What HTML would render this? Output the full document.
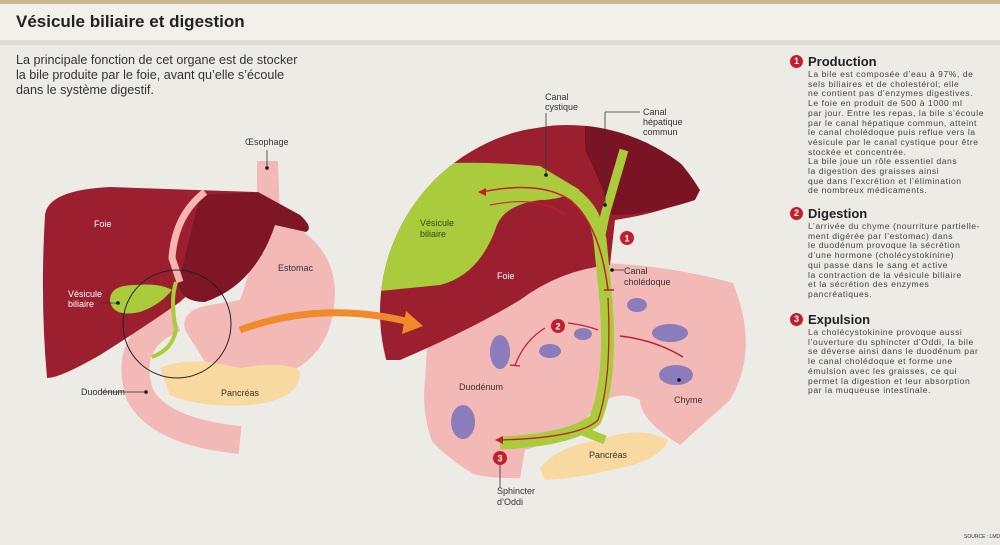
<!DOCTYPE html>
<html><head><meta charset="utf-8"><style>
body{margin:0;width:1000px;height:545px;overflow:hidden;background:#ecebe6;font-family:"Liberation Sans",sans-serif;position:relative}
.top{position:absolute;left:0;top:0;width:1000px;height:4px;background:#c9b995}
.hd{position:absolute;left:0;top:4px;width:1000px;height:36px;background:#f1f0eb;border-bottom:5px solid #dedcd5}
h1{position:absolute;left:16px;top:12px;margin:0;font-size:17px;font-weight:bold;color:#222}
.intro{position:absolute;left:16px;top:53px;font-size:12.6px;line-height:15px;color:#333}
.col{position:absolute;left:790px;width:210px;color:#444;font-size:8.6px;line-height:9.7px;white-space:nowrap}
.col b{display:block;font-size:13px;color:#222;margin-left:18px;line-height:15px}
.col p{margin:1px 0 0 18px;letter-spacing:0.55px}
.n{position:absolute;left:0;top:1px;width:13px;height:13px;border-radius:50%;background:#c41e2e;color:#fff;font-size:9px;font-weight:bold;text-align:center;line-height:13px}
svg text{font-family:"Liberation Sans",sans-serif;font-size:9px;fill:#333}
</style></head><body>
<div class="top"></div><div class="hd"></div>
<h1>Vésicule biliaire et digestion</h1>
<div class="intro">La principale fonction de cet organe est de stocker<br>la bile produite par le foie, avant qu’elle s’écoule<br>dans le système digestif.</div>
<svg width="1000" height="545" style="position:absolute;left:0;top:0">
<defs><clipPath id="c"><circle cx="567" cy="312" r="187"/></clipPath></defs>
<path d="M257,161 L278,161 L280,220 Q332,240 335,290 Q335,350 290,372 Q240,382 210,370 L185,330 Q180,310 210,305 L240,300 Q255,260 257,215 Z" fill="#f3b9b6"/>
<path d="M175,318 Q122,340 140,395 Q160,432 240,440" stroke="#f3b9b6" stroke-width="28" fill="none"/>
<path d="M160,368 Q190,355 240,368 Q290,360 300,372 Q300,400 250,405 Q200,408 170,395 Z" fill="#f8d9a0"/>
<path d="M45,215 Q48,190 110,187 L255,192 L268,205 L262,255 Q240,270 210,282 Q190,292 180,302 Q140,330 100,355 Q60,378 47,378 Q40,300 45,215 Z" fill="#9c1f30"/>
<path d="M200,195 L258,192 L300,215 Q314,228 306,232 L275,225 Q255,285 205,302 Q182,302 178,285 Z" fill="#7e1626"/>
<path d="M205,192 Q175,215 172,258 L180,282" stroke="#f5b6b0" stroke-width="7" fill="none"/>
<path d="M110,300 Q110,285 135,285 Q160,283 172,290 Q160,305 140,312 Q112,318 110,300 Z" fill="#a9cb3c"/>
<path d="M176,282 Q170,300 176,330 Q172,350 152,357" stroke="#a9cb3c" stroke-width="4" fill="none"/>
<circle cx="177" cy="324" r="54" fill="none" stroke="#222" stroke-width="1"/>
<g clip-path="url(#c)">
<rect x="370" y="120" width="400" height="380" fill="#ecebe6"/>
<path d="M430,300 Q500,265 560,263 Q650,260 733,283 Q760,350 730,400 L680,445 Q640,420 640,400 Q610,385 585,420 Q560,440 525,450 L520,478 Q470,480 440,460 Q420,420 425,380 Z" fill="#f3b9b6"/>
<path d="M540,468 Q560,445 600,440 Q640,425 668,440 Q660,460 620,468 Q580,478 545,480 Z" fill="#f8d9a0"/>
<path d="M370,180 L460,140 L600,118 L700,190 Q680,210 615,220 L610,265 Q560,270 520,300 Q470,330 400,360 L370,360 Z" fill="#9c1f30"/>
<path d="M585,122 Q650,110 700,190 L695,200 Q650,215 612,215 Q600,180 585,150 Z" fill="#7a1424"/>
<path d="M370,170 Q450,158 540,166 L580,190 Q560,200 540,200 Q505,205 497,225 Q480,275 440,285 L370,292 Z" fill="#a9cb3c"/>
<path d="M540,182 Q592,190 600,240 L606,300 Q612,380 595,420 Q570,440 500,443" stroke="#a9cb3c" stroke-width="13" fill="none"/>
<path d="M624,150 L605,215 L600,240" stroke="#a9cb3c" stroke-width="9" fill="none"/>
<path d="M580,430 L605,440" stroke="#a9cb3c" stroke-width="9" fill="none"/>
<path d="M482,192 Q540,180 570,200 Q600,225 608,290 M604,290 L614,290" stroke="#c41e2e" stroke-width="1.5" fill="none"/>
<path d="M490,205 Q540,195 565,215" stroke="#c41e2e" stroke-width="1" fill="none"/>
<path d="M608,298 Q612,380 598,420 Q580,438 498,440" stroke="#c41e2e" stroke-width="1.3" fill="none"/>
<path d="M545,328 Q525,340 515,365 M510,365 L520,366 M568,323 Q585,325 598,330" stroke="#c41e2e" stroke-width="1.3" fill="none"/>
<path d="M683,357 Q655,340 620,336" stroke="#c41e2e" stroke-width="1.5" fill="none"/>
<g fill="#8b7cbb"><ellipse cx="637" cy="305" rx="10" ry="7"/><ellipse cx="670" cy="333" rx="18" ry="9"/><ellipse cx="676" cy="375" rx="17" ry="10"/><ellipse cx="500" cy="352" rx="10" ry="17"/><ellipse cx="550" cy="351" rx="11" ry="7"/><ellipse cx="583" cy="334" rx="9" ry="6"/><ellipse cx="463" cy="422" rx="12" ry="17"/></g>
</g>
<path d="M240,330 Q320,300 410,322" stroke="#f08a2a" stroke-width="7" fill="none"/>
<polygon points="406,311 423,326 402,334" fill="#f08a2a"/>
<polygon points="478,192 486,188 486,196" fill="#c41e2e"/>
<polygon points="495,440 503,436 503,444" fill="#c41e2e"/>
<circle cx="627" cy="238" r="7" fill="#c41e2e"/><circle cx="558" cy="326" r="7" fill="#c41e2e"/><circle cx="500" cy="458" r="7" fill="#c41e2e"/>
<text x="624.5" y="241.5" style="fill:#fff" font-weight="bold">1</text><text x="555.5" y="329.5" style="fill:#fff" font-weight="bold">2</text><text x="497.5" y="461.5" style="fill:#fff" font-weight="bold">3</text>
<g stroke="#333" stroke-width="0.8"><path d="M546,113 L546,175 M605,112 L640,112 M605,112 L605,205 M612,270 L624,270 M500,465 L500,488 M267,150 L267,168 M102,392 L144,392 M100,303 L118,303"/></g>
<g fill="#111"><circle cx="546" cy="175" r="1.8"/><circle cx="605" cy="205" r="1.8"/><circle cx="612" cy="270" r="1.8"/><circle cx="267" cy="168" r="1.8"/><circle cx="146" cy="392" r="1.8"/><circle cx="118" cy="303" r="1.8"/><circle cx="679" cy="380" r="1.8"/></g>
<text x="94" y="227" style="fill:#fff">Foie</text>
<text x="420" y="226" style="fill:#2d4a10">Vésicule</text><text x="420" y="237" style="fill:#2d4a10">biliaire</text>
<text x="497" y="279" style="fill:#fff">Foie</text>
<text x="245" y="145">Œsophage</text><text x="278" y="271">Estomac</text>
<text x="68" y="297" style="fill:#fff">Vésicule</text><text x="68" y="307" style="fill:#fff">biliaire</text>
<text x="81" y="395">Duodénum</text><text x="221" y="396">Pancréas</text>
<text x="545" y="100">Canal</text><text x="545" y="110">cystique</text>
<text x="643" y="115">Canal</text><text x="643" y="125">hépatique</text><text x="643" y="135">commun</text>
<text x="624" y="274">Canal</text><text x="624" y="285">cholédoque</text>
<text x="459" y="390">Duodénum</text><text x="674" y="403">Chyme</text><text x="589" y="458">Pancréas</text>
<text x="497" y="494">Sphincter</text><text x="497" y="505">d’Oddi</text>
<text x="964" y="538" style="font-size:5px">SOURCE : LMD</text>
</svg>
<div class="col" style="top:54px"><span class="n">1</span><b>Production</b><p>La bile est composée d’eau à 97%, de<br>sels biliaires et de cholestérol; elle<br>ne contient pas d’enzymes digestives.<br>Le foie en produit de 500 à 1000 ml<br>par jour. Entre les repas, la bile s’écoule<br>par le canal hépatique commun, atteint<br>le canal cholédoque puis reflue vers la<br>vésicule par le canal cystique pour être<br>stockée et concentrée.<br>La bile joue un rôle essentiel dans<br>la digestion des graisses ainsi<br>que dans l’excrétion et l’élimination<br>de nombreux médicaments.</p></div>
<div class="col" style="top:206px"><span class="n">2</span><b>Digestion</b><p>L’arrivée du chyme (nourriture partielle-<br>ment digérée par l’estomac) dans<br>le duodénum provoque la sécrétion<br>d’une hormone (cholécystokinine)<br>qui passe dans le sang et active<br>la contraction de la vésicule biliaire<br>et la sécrétion des enzymes<br>pancréatiques.</p></div>
<div class="col" style="top:312px"><span class="n">3</span><b>Expulsion</b><p>La cholécystokinine provoque aussi<br>l’ouverture du sphincter d’Oddi, la bile<br>se déverse ainsi dans le duodénum par<br>le canal cholédoque et forme une<br>émulsion avec les graisses, ce qui<br>permet la digestion et leur absorption<br>par la muqueuse intestinale.</p></div>
</body></html>
